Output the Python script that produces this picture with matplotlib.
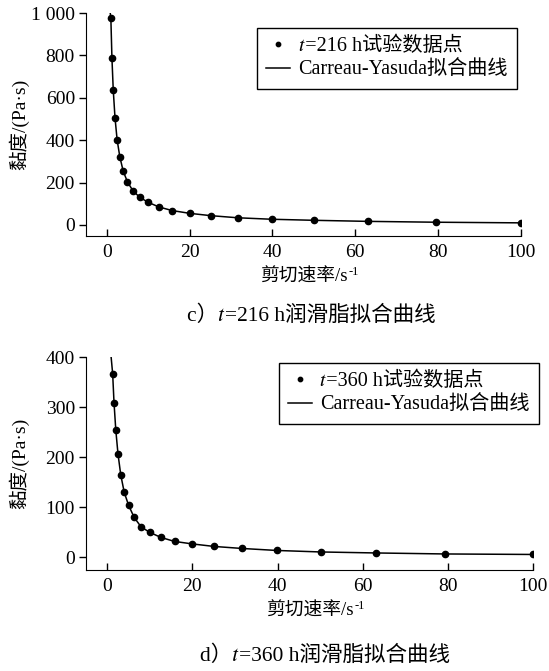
import numpy as np
import matplotlib
matplotlib.use("Agg")
import matplotlib.pyplot as plt

plt.rcParams['font.family'] = ['Liberation Serif', 'STIXGeneral', 'Noto Sans CJK SC']
plt.rcParams['font.size'] = 14

# shear rate points (log spaced)
rate_216 = [1.0, 1.26, 1.58, 2.0, 2.51, 3.16, 3.98, 5.01, 6.31, 7.94, 10.0,
            12.6, 15.8, 20.0, 25.1, 31.6, 39.8, 50.1, 63.1, 79.4, 100.0]
visc_216 = [976, 787, 636, 506, 402, 322, 254, 203, 162, 131, 107,
            85, 68, 55, 44, 34, 27, 22, 17, 13, 10]
fit_216_start = (0.85, 1000)

rate_360 = [1.26, 1.58, 2.0, 2.51, 3.16, 3.98, 5.01, 6.31, 7.94, 10.0,
            12.6, 15.8, 20.0, 25.1, 31.6, 39.8, 50.1, 63.1, 79.4, 100.0]
visc_360 = [367, 309, 254, 207, 165, 130, 104, 80, 61, 50,
            40, 32, 27, 22, 18, 14, 11, 9, 7, 6]
fit_360_start = (0.9, 400)

W, H = 549, 671
fig = plt.figure(figsize=(W / 100, H / 100), dpi=100)


def panel(rect, x, y, start, hours, yticks, ylabels, ylim, legend_anchor):
    ax = fig.add_axes(rect)
    fx = [start[0]] + list(x)
    fy = [start[1]] + list(y)
    ax.plot(fx, fy, color='black', lw=1.1, label='Carreau-Yasuda拟合曲线')
    ax.plot(x, y, 'o', color='black', ms=4.5, lw=0,
            label='\U0001D461=%d h试验数据点' % hours)
    ax.set_xlim(-5, 100)
    ax.set_ylim(*ylim)
    ax.set_xticks([0, 20, 40, 60, 80, 100])
    ax.set_yticks(yticks)
    ax.set_yticklabels(ylabels)
    ax.spines['top'].set_visible(False)
    ax.spines['right'].set_visible(False)
    ax.tick_params(axis='x', direction='in', length=5, width=1, pad=6)
    ax.tick_params(axis='y', direction='out', length=5, width=1, pad=3)
    ax.set_xlabel('剪切速率/s', fontsize=13.5, labelpad=5)
    ax.set_ylabel('黏度/(Pa·s)', fontsize=14)
    ax.yaxis.set_label_coords(-(86 - 29) / (rect[2] * W), 0.5)
    h, l = ax.get_legend_handles_labels()
    leg = ax.legend(h[::-1], l[::-1], loc='upper right', bbox_to_anchor=legend_anchor,
                    frameon=True, fancybox=False, edgecolor='black', framealpha=1,
                    handlelength=1.2, handletextpad=0.4, borderpad=0.45,
                    borderaxespad=0, labelspacing=0.2, markerscale=0.7,
                    fontsize=14.5)
    leg.get_frame().set_linewidth(1.0)
    return ax


ax1 = panel([86 / W, 1 - 236 / H, 435 / W, 223 / H], rate_216, visc_216,
            fit_216_start, 216, [0, 200, 400, 600, 800, 1000],
            ['0', '200', '400', '600', '800', '1 000'], (-52, 1000), (0.991, 0.933))
ax2 = panel([86 / W, 1 - 570 / H, 447 / W, 213 / H], rate_360, visc_360,
            fit_360_start, 360, [0, 100, 200, 300, 400],
            ['0', '100', '200', '300', '400'], (-25, 400), (1.013, 0.972))

fig.text(311 / W, 1 - 316 / H, 'c）\U0001D461=216 h润滑脂拟合曲线', ha='center', va='center', fontsize=15.5)
fig.text(325 / W, 1 - 656 / H, 'd）\U0001D461=360 h润滑脂拟合曲线', ha='center', va='center', fontsize=15.5)

# superscript "-1" after the x labels
fig.canvas.draw()
inv = fig.transFigure.inverted()
for ax in (ax1, ax2):
    bb = ax.xaxis.label.get_window_extent()
    x0, y0 = inv.transform((bb.x1 + 1, bb.y0 + 0.62 * bb.height))
    fig.text(x0, y0, '-1', fontsize=9, ha='left', va='baseline')

fig.savefig('out.png', dpi=100)
